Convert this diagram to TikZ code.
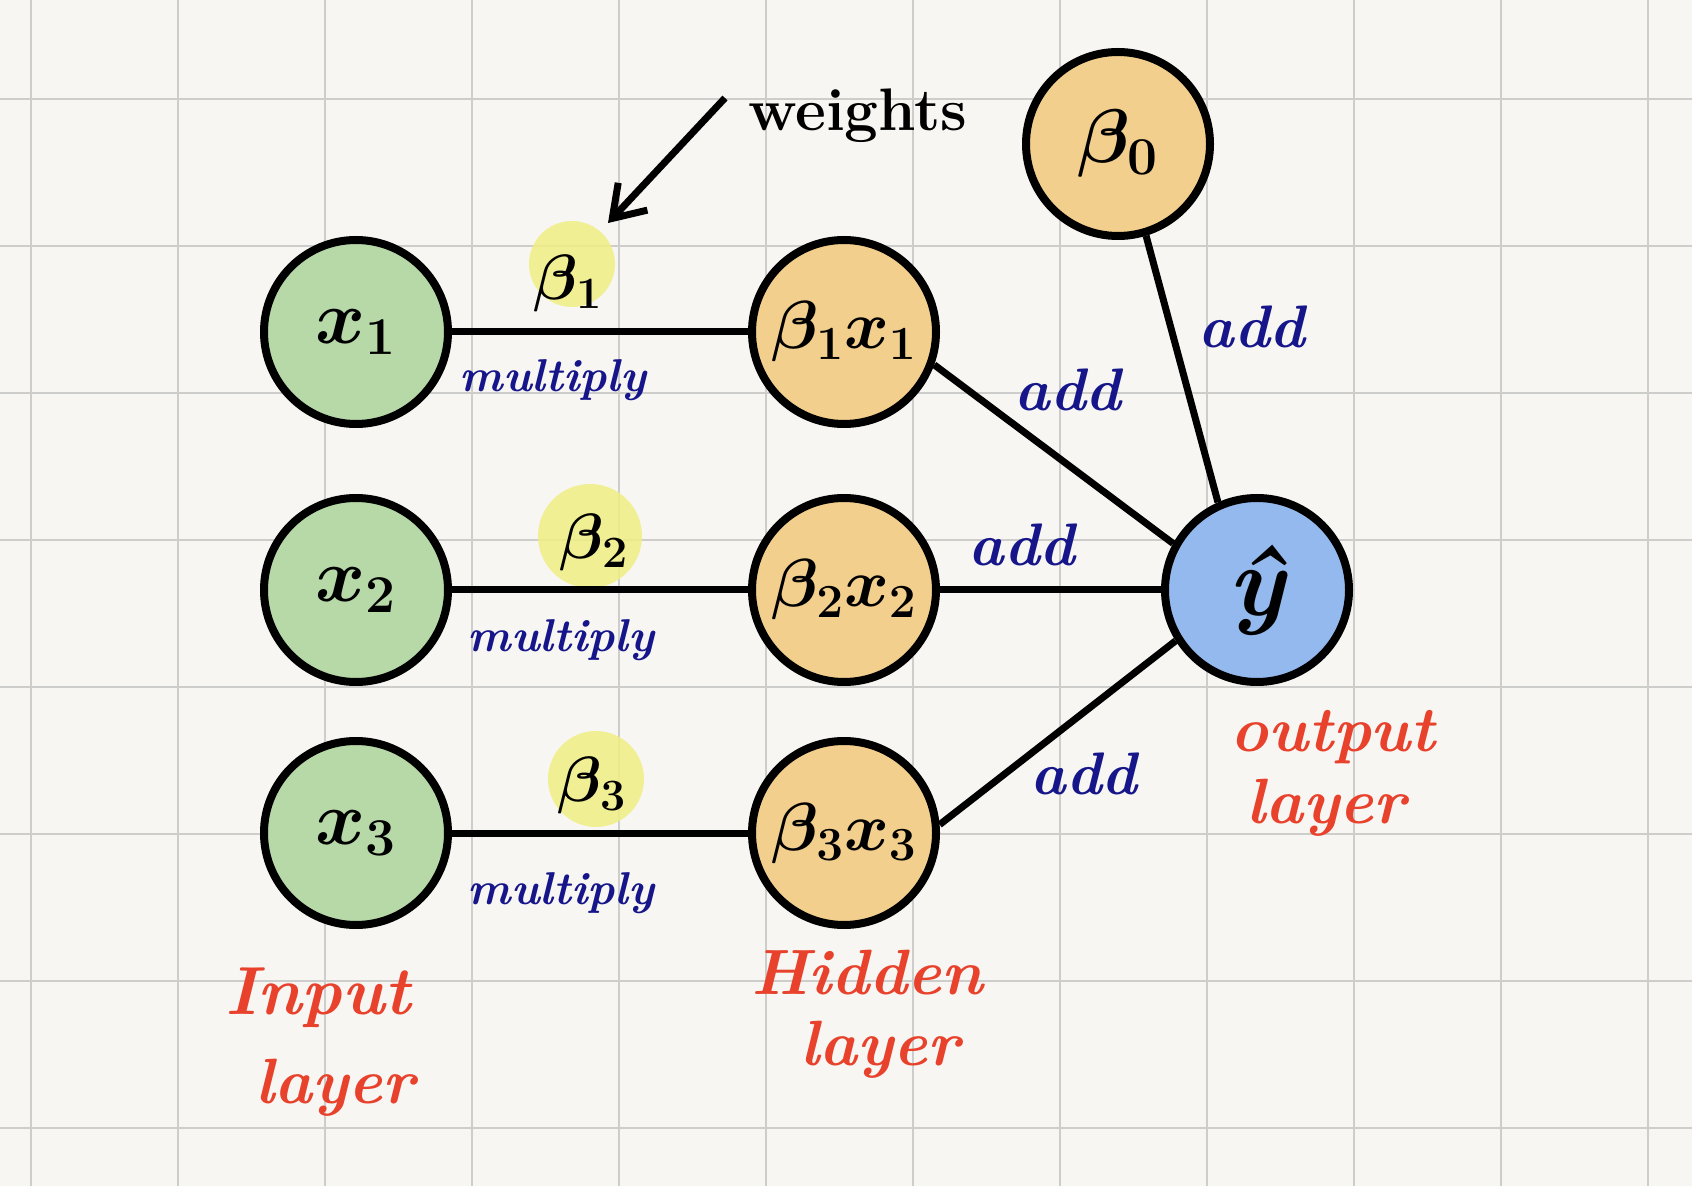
\RequirePackage{fix-cm}
\documentclass[tikz,border=0pt]{standalone}
\usepackage{fontspec}
\usetikzlibrary{arrows.meta}
\definecolor{paper}{HTML}{F7F6F2}
\definecolor{gridc}{HTML}{CDCDCB}
\definecolor{gfill}{HTML}{B7D9A8}
\definecolor{ofill}{HTML}{F3CF8E}
\definecolor{bfill}{HTML}{94B9EE}
\definecolor{yhl}{HTML}{F1EE84}
\definecolor{opblue}{HTML}{16168A}
\definecolor{lred}{HTML}{E8412C}
\tikzset{
  gridline/.style={gridc, line width=1pt},
  neuron/.style={circle, draw=black, line width=4pt, minimum size=92pt, inner sep=0pt,
    font=\fontsize{34}{40}\selectfont\boldmath},
  innode/.style={neuron, fill=gfill, font=\fontsize{38}{44}\selectfont\boldmath},
  hidnode/.style={neuron, fill=ofill},
  outnode/.style={neuron, fill=bfill, font=\fontsize{50}{54}\selectfont\bfseries\itshape},
  conn/.style={black, line width=3.5pt},
  oplab/.style={text=opblue, font=\fontsize{23}{28}\selectfont\bfseries\itshape, inner sep=0pt},
  addlab/.style={text=opblue, font=\fontsize{30}{34}\selectfont\bfseries\itshape, inner sep=0pt},
  wlab/.style={text=black, font=\fontsize{32}{36}\selectfont\boldmath, inner sep=0pt},
  layerlab/.style={text=lred, font=\fontsize{32}{36}\selectfont\bfseries\itshape, inner sep=0pt},
  hlspot/.style={circle, fill=yhl, fill opacity=0.85, inner sep=0pt},
}
\begin{document}
\begin{tikzpicture}[x=0.5pt, y=-0.5pt]
\useasboundingbox (0,0) rectangle (1692,1186);
\fill[paper] (0,0) rectangle (1692,1186);
\foreach \i in {0,...,11} \draw[gridline] ({31+147*\i},0) -- ({31+147*\i},1186);
\foreach \j in {0,...,7} \draw[gridline] (0,{99+147*\j}) -- (1692,{99+147*\j});

% yellow highlights behind the weights
\node[hlspot, minimum size=43pt] (hl1) at (572,264) {};
\node[hlspot, minimum size=52pt] (hl2) at (590,536) {};
\node[hlspot, minimum size=48pt] (hl3) at (596,779) {};

% neurons
\node[innode] (x1) at (356,332) {$x_1$};
\node[innode] (x2) at (356,590) {$x_2$};
\node[innode] (x3) at (356,833) {$x_3$};
\node[hidnode] (h1) at (844,332) {$\beta_1x_1$};
\node[hidnode] (h2) at (844,590) {$\beta_2x_2$};
\node[hidnode] (h3) at (844,833) {$\beta_3x_3$};
\node[outnode] (yh) at (1257,590) {ŷ};
\node[hidnode, font=\fontsize{38}{44}\selectfont\boldmath] (b0) at (1118,144) {$\beta_0$};

% connectors
\draw[conn] (x1) -- (h1);
\draw[conn] (x2) -- (h2);
\draw[conn] (x3) -- (h3);
\draw[conn] (h1.340) -- (yh.151);
\draw[conn] (h2) -- (yh);
\draw[conn] (h3.5) -- (yh.212);
\draw[conn] (b0.287) -- (yh.114);

% weight labels
\node[wlab, anchor=south] (w1) at (568,312) {$\beta_1$};
\node[wlab, anchor=south] (w2) at (594,571) {$\beta_2$};
\node[wlab, anchor=south] (w3) at (592,814) {$\beta_3$};

% operation labels
\node[oplab] (m1) at (553,380) {multiply};
\node[oplab] (m2) at (561,640) {multiply};
\node[oplab] (m3) at (561,893) {multiply};
\node[addlab] (a1) at (1068,390) {add};
\node[addlab] (a2) at (1022,545) {add};
\node[addlab] (a3) at (1084,774) {add};
\node[addlab] (a0) at (1252,327) {add};

% weights annotation
\node[anchor=west, inner sep=0pt, font=\fontsize{30}{34}\selectfont\bfseries] (wt) at (748,116) {weights};
\coordinate (wtail) at (725,98);
\coordinate (whead) at (608,223);
\draw[black, line width=3.5pt, -{Straight Barb[length=15pt, width=20pt, line width=3.5pt]}] (wtail) -- (whead);

% layer labels
\node[layerlab, font=\fontsize{34}{38}\selectfont\bfseries\itshape] (lin1) at (318,998) {Input};
\node[layerlab] (lin2) at (335,1088) {layer};
\node[layerlab] (lhid1) at (867,973) {Hidden};
\node[layerlab] (lhid2) at (880,1050) {layer};
\node[layerlab] (lout1) at (1333,737) {output};
\node[layerlab] (lout2) at (1326,808) {layer};
\end{tikzpicture}
\end{document}
